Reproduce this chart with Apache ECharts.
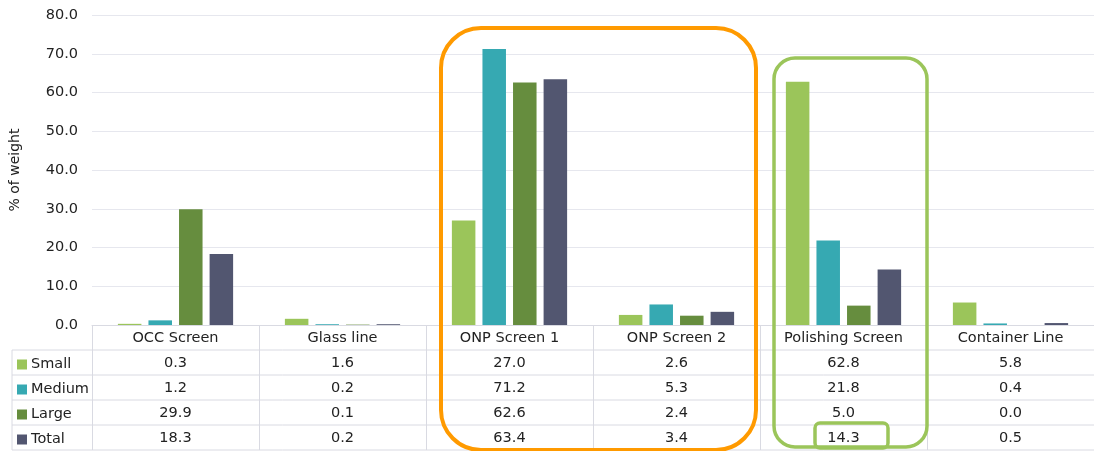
<!DOCTYPE html>
<html><head><meta charset="utf-8">
<script src="https://cdn.jsdelivr.net/npm/echarts@6/dist/echarts.min.js"></script>
<style>html,body{margin:0;padding:0;background:#fff}#c{width:1094px;height:451px}</style>
</head><body><div id="c"></div>
<script>
const categories = ['OCC Screen','Glass line','ONP Screen 1','ONP Screen 2','Polishing Screen','Container Line'];
const seriesNames = ['Small','Medium','Large','Total'];
const small  = [0.3, 1.6, 27.0, 2.6, 62.8, 5.8];
const medium = [1.2, 0.2, 71.2, 5.3, 21.8, 0.4];
const large  = [29.9, 0.1, 62.6, 2.4, 5.0, 0.0];
const total  = [18.3, 0.2, 63.4, 3.4, 14.3, 0.5];
const colors = ['#9bc55a','#36a9b2','#668d3e','#525670'];
const FONT = 'DejaVu Sans';
const FS = 14.5;
const allVals = [small, medium, large, total];

const chart = echarts.init(document.getElementById('c'), null, {renderer:'canvas'});
const rowH = 25, gL = 92, gBottomY = 325;
const xAxes = [{
  type:'category', data:categories, position:'bottom',
  axisLine:{show:true, lineStyle:{color:'#d9dae2'}},
  axisTick:{show:true, length:125, lineStyle:{color:'#d9dae2'}},
  axisLabel:{color:'#222', fontSize:FS, fontFamily:FONT, margin:6}
}];
allVals.forEach((arr,k)=>{
  xAxes.push({
    type:'category', data:arr.map(v=>v.toFixed(1)), position:'bottom', offset:rowH*(k+1),
    axisLine:{show:false}, axisTick:{show:false},
    axisLabel:{color:'#222', fontSize:FS, fontFamily:FONT, margin:6}
  });
});
const gfx = [];
for (let k=1;k<=5;k++){
  gfx.push({type:'line', shape:{x1:12, y1:gBottomY+rowH*k, x2:1094, y2:gBottomY+rowH*k}, style:{stroke:'#d9dae2', lineWidth:1}, silent:true});
}
gfx.push({type:'line', shape:{x1:12, y1:gBottomY+rowH, x2:12, y2:gBottomY+rowH*5}, style:{stroke:'#d9dae2', lineWidth:1}});
gfx.push({type:'rect', shape:{x:441, y:28, width:315, height:422, r:40}, style:{fill:'none', stroke:'#ff9a00', lineWidth:4}, z:100});
gfx.push({type:'rect', shape:{x:774, y:58, width:153, height:389, r:21}, style:{fill:'none', stroke:'#9bc55a', lineWidth:3.5}, z:100});
gfx.push({type:'rect', shape:{x:815, y:423, width:73, height:25, r:5}, style:{fill:'none', stroke:'#9bc55a', lineWidth:3.5}, z:100});

const legends = seriesNames.map((n,i)=>({data:[n], left:17, top:gBottomY+rowH*(i+1)+7, itemWidth:10, itemHeight:10, icon:'rect', padding:0,
  itemGap:0, selectedMode:false,
  textStyle:{fontSize:FS, color:'#222', fontFamily:FONT, padding:[0,0,0,-1]}}));

chart.setOption({
  animation:false,
  color:colors,
  textStyle:{fontFamily:FONT},
  grid:{left:gL, right:0, top:15, bottom:451-gBottomY, containLabel:false},
  legend:legends,
  xAxis:xAxes,
  yAxis:{type:'value', min:0, max:80, interval:10,
    name:'% of weight', nameLocation:'middle', nameGap:70, nameRotate:90,
    nameTextStyle:{fontSize:14, color:'#222', fontFamily:FONT},
    axisLine:{show:false}, axisTick:{show:false},
    axisLabel:{formatter:v=>v.toFixed(1), fontSize:FS, color:'#222', fontFamily:FONT, margin:14},
    splitLine:{lineStyle:{color:'#e6e7ee'}}},
  series: seriesNames.map((n,i)=>({name:n, type:'bar', data:allVals[i], barGap:'30%', barCategoryGap:'31%',
    itemStyle:{color:colors[i]}})),
  graphic: gfx
});
</script></body></html>
